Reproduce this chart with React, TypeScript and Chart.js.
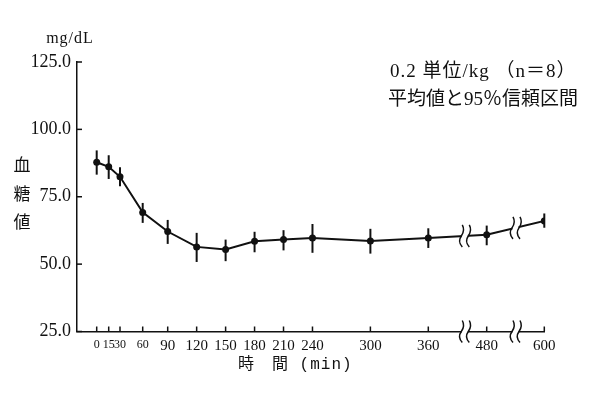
import React, { useEffect, useRef } from 'react';
import { Chart, registerables } from 'chart.js';

Chart.register(...registerables);

// ---- data ----
const TIMES = [0, 15, 30, 60, 90, 120, 150, 180, 210, 240, 300, 360, 480, 600];
const MEAN = [87.8, 86.1, 82.4, 69.2, 62.1, 56.4, 55.4, 58.5, 59.1, 59.7, 58.6, 59.7, 60.9, 66.0];
const CI_LOW = [83.2, 81.6, 78.9, 65.3, 57.5, 50.8, 51.1, 54.4, 55.1, 54.2, 53.9, 56.0, 57.0, 63.5];
const CI_HIGH = [92.2, 90.4, 85.9, 72.7, 66.4, 61.6, 59.1, 62.0, 62.6, 64.9, 63.1, 63.3, 64.3, 68.8];
const TICK_LABELS = ['0', '15', '30', '60', '90', '120', '150', '180', '210', '240', '300', '360', '480', '600'];
const Y_TICKS = [25, 50, 75, 100, 125];

// broken time axis: minutes -> axis units (piecewise linear)
const AXIS_TIME_KNOTS = [0, 15, 30, 60, 90, 360, 480, 600];
const AXIS_UNIT_KNOTS = [0, 12, 23.3, 46, 71, 331.6, 390, 447.6];
const BREAK_TIMES = [435, 540];

const INK = '#111';
const SERIF = '"Liberation Serif", "Noto Sans CJK JP", serif';

function warp(t: number): number {
  const n = AXIS_TIME_KNOTS.length;
  for (let i = 1; i < n; i++) {
    if (t <= AXIS_TIME_KNOTS[i] || i === n - 1) {
      const t0 = AXIS_TIME_KNOTS[i - 1], t1 = AXIS_TIME_KNOTS[i];
      const u0 = AXIS_UNIT_KNOTS[i - 1], u1 = AXIS_UNIT_KNOTS[i];
      return u0 + ((t - t0) / (t1 - t0)) * (u1 - u0);
    }
  }
  return t;
}

function squiggle(ctx: CanvasRenderingContext2D, cx: number, cy: number, h: number) {
  ctx.beginPath();
  ctx.moveTo(cx + 1, cy - h / 2);
  ctx.quadraticCurveTo(cx + 4, cy - h / 4, cx, cy);
  ctx.quadraticCurveTo(cx - 4, cy + h / 4, cx + 1, cy + h / 2);
  ctx.stroke();
}

const decorations = {
  id: 'decorations',
  beforeDatasetsDraw(chart: any) {
    const { ctx, scales } = chart;
    const x = scales.x, y = scales.y;
    ctx.save();
    ctx.strokeStyle = INK;
    ctx.lineWidth = 2;
    TIMES.forEach((t, i) => {
      const px = x.getPixelForValue(warp(t));
      ctx.beginPath();
      ctx.moveTo(px, y.getPixelForValue(CI_LOW[i]));
      ctx.lineTo(px, y.getPixelForValue(CI_HIGH[i]));
      ctx.stroke();
    });
    ctx.restore();
  },
  afterDraw(chart: any) {
    const { ctx, scales, chartArea } = chart;
    const x = scales.x, y = scales.y;
    const left = chartArea.left, bottom = chartArea.bottom;
    ctx.save();
    ctx.strokeStyle = INK;
    ctx.fillStyle = INK;
    ctx.lineWidth = 1.5;
    // inward tick marks
    Y_TICKS.forEach((v) => {
      const py = y.getPixelForValue(v);
      ctx.beginPath();
      ctx.moveTo(left, py);
      ctx.lineTo(left + 5, py);
      ctx.stroke();
    });
    TIMES.forEach((t) => {
      const px = x.getPixelForValue(warp(t));
      ctx.beginPath();
      ctx.moveTo(px, bottom);
      ctx.lineTo(px, bottom - 5);
      ctx.stroke();
    });
    // axis breaks (on line and on x axis)
    BREAK_TIMES.forEach((b) => {
      const u = warp(b);
      const px = x.getPixelForValue(u);
      let ly = 0;
      for (let i = 0; i < TIMES.length - 1; i++) {
        const u0 = warp(TIMES[i]), u1 = warp(TIMES[i + 1]);
        if (u >= u0 && u <= u1) {
          const y0 = y.getPixelForValue(MEAN[i]), y1 = y.getPixelForValue(MEAN[i + 1]);
          ly = y0 + ((u - u0) / (u1 - u0)) * (y1 - y0);
        }
      }
      [ly, bottom].forEach((cy) => {
        ctx.fillStyle = '#fff';
        ctx.fillRect(px - 3, cy - 3, 6, 6);
        ctx.strokeStyle = INK;
        ctx.lineWidth = 1.5;
        squiggle(ctx, px - 3.5, cy, 22);
        squiggle(ctx, px + 3.5, cy, 22);
      });
    });
    // texts
    ctx.fillStyle = INK;
    ctx.textBaseline = 'middle';
    ctx.textAlign = 'center';
    ctx.font = '16px "Liberation Serif", serif';
    (ctx as any).letterSpacing = '1px';
    ctx.fillText('mg/dL', 70, 39);
    (ctx as any).letterSpacing = '0px';
    ctx.font = '17px "Noto Sans CJK JP", sans-serif';
    ctx.fillText('血', 22, 165);
    ctx.fillText('糖', 22, 194);
    ctx.fillText('値', 22, 222);
    ctx.textAlign = 'left';
    ctx.font = '19px ' + SERIF;
    (ctx as any).letterSpacing = '1px';
    ctx.fillText('0.2 単位/kg （n＝8）', 390, 72);
    (ctx as any).letterSpacing = '0px';
    ctx.fillText('平均値と95％信頼区間', 388, 100);
    ctx.font = '16px "Liberation Mono", "Noto Sans CJK JP", monospace';
    (ctx as any).letterSpacing = '1px';
    ctx.fillText('時　間 (min)', 238, 365);
    (ctx as any).letterSpacing = '0px';
    ctx.restore();
  },
};

export default function App() {
  const ref = useRef<HTMLCanvasElement | null>(null);
  useEffect(() => {
    if (!ref.current) return;
    const chart = new Chart(ref.current, {
      type: 'line',
      data: {
        datasets: [
          {
            label: '血糖値',
            data: TIMES.map((t, i) => ({ x: warp(t), y: MEAN[i] })),
            borderColor: INK,
            backgroundColor: INK,
            borderWidth: 2,
            pointRadius: 3.5,
            pointBackgroundColor: INK,
            pointBorderWidth: 0,
            tension: 0,
          },
        ],
      },
      options: {
        animation: false,
        responsive: false,
        devicePixelRatio: 1,
        layout: { padding: { top: 62, right: 56, left: 0, bottom: 0 } },
        plugins: { legend: { display: false }, tooltip: { enabled: false } },
        scales: {
          x: {
            type: 'linear',
            min: -19.7,
            max: 447.3,
            afterFit: (s: any) => { s.height = 61.5; },
            afterBuildTicks: (s: any) => { s.ticks = TIMES.map((t) => ({ value: warp(t) })); },
            grid: { display: false, drawTicks: false },
            border: { display: true, color: INK, width: 1.5 },
            ticks: {
              autoSkip: false,
              maxRotation: 0,
              minRotation: 0,
              padding: 6,
              color: INK,
              font: (c: any) => ({ family: SERIF, size: c.index < 4 ? 12 : 15 }),
              callback: (_v: any, i: number) => TICK_LABELS[i],
            },
          },
          y: {
            type: 'linear',
            min: 25,
            max: 125,
            afterFit: (s: any) => { s.width = 77; },
            afterBuildTicks: (s: any) => { s.ticks = Y_TICKS.map((v) => ({ value: v })); },
            grid: { display: false, drawTicks: false },
            border: { display: true, color: INK, width: 1.5 },
            ticks: {
              padding: 6,
              color: INK,
              font: { family: SERIF, size: 18 },
              callback: (v: any) => Number(v).toFixed(1),
            },
          },
        },
      },
      plugins: [decorations],
    });
    return () => chart.destroy();
  }, []);
  return (
    <div style={{ position: 'absolute', left: 0, top: 0, width: 600, height: 393, background: '#fff' }}>
      <canvas ref={ref} width={600} height={393} />
    </div>
  );
}
